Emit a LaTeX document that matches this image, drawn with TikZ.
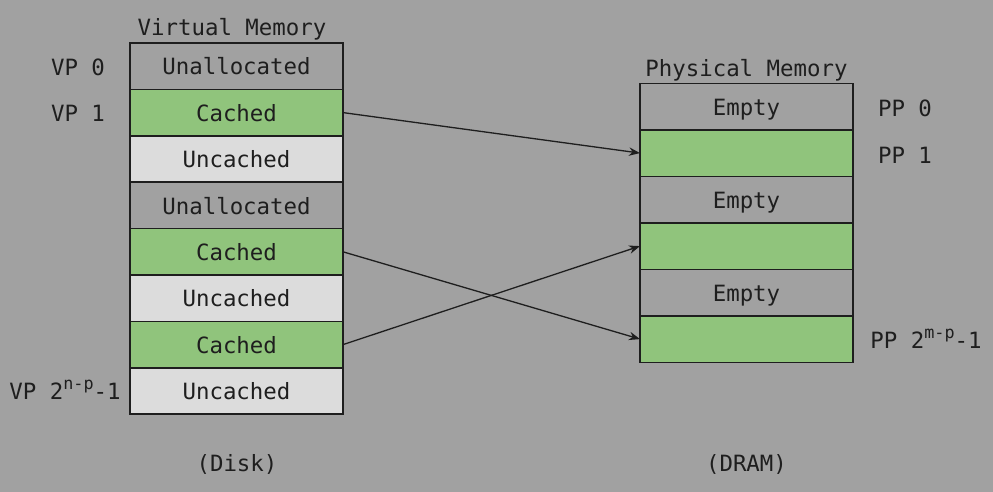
\documentclass[tikz,border=0pt]{standalone}
\usepackage{fontspec}
\setmonofont{DejaVu Sans Mono}
\usetikzlibrary{arrows.meta}
\definecolor{bgc}{HTML}{A1A1A1}
\definecolor{cgreen}{HTML}{90C47C}
\definecolor{clight}{HTML}{DCDCDC}
\definecolor{ink}{HTML}{1E1E1E}
\newcommand{\supx}[1]{\raisebox{0.45em}{\fontsize{8.4}{10}\selectfont #1}}
\tikzset{
  cell/.style={draw=ink, line width=0.75pt, minimum width=106.5pt, minimum height=23.2pt, inner sep=0pt, outer sep=0pt, text=ink, text height=9.8pt, text depth=1pt},
  unal/.style={cell, fill=bgc},
  cach/.style={cell, fill=cgreen},
  unca/.style={cell, fill=clight},
  pcell/.style={cell, minimum height=23.25pt},
  lab/.style={text=ink, inner sep=0pt, text height=9.8pt, text depth=1pt},
  conn/.style={draw=ink, line width=0.65pt, -{Stealth[length=5.5pt,width=4.2pt]}}
}
\begin{document}
\begin{tikzpicture}[x=0.5pt,y=-0.5pt, font=\ttfamily\fontsize{11.2}{13}\selectfont]
\fill[bgc] (0,0) rectangle (993,492);
\useasboundingbox (0,0) rectangle (993,492);
% virtual memory column
\node[unal] (v0) at (236.5,66.2) {Unallocated};
\node[cach] (v1) at (236.5,112.6) {Cached};
\node[unca] (v2) at (236.5,159.0) {Uncached};
\node[unal] (v3) at (236.5,205.4) {Unallocated};
\node[cach] (v4) at (236.5,251.8) {Cached};
\node[unca] (v5) at (236.5,298.2) {Uncached};
\node[cach] (v6) at (236.5,344.6) {Cached};
\node[unca] (v7) at (236.5,391.0) {Uncached};
% physical memory column
\node[pcell, fill=bgc] (p0) at (746.5,106.6) {Empty};
\node[pcell, fill=cgreen] (p1) at (746.5,153.1) {};
\node[pcell, fill=bgc] (p2) at (746.5,199.6) {Empty};
\node[pcell, fill=cgreen] (p3) at (746.5,246.1) {};
\node[pcell, fill=bgc] (p4) at (746.5,292.6) {Empty};
\node[pcell, fill=cgreen] (p5) at (746.5,339.1) {};
% titles and labels
\node[lab] (tv) at (232,27) {Virtual Memory};
\node[lab] (tp) at (746.5,68) {Physical Memory};
\node[lab] (vp0) at (78,66.5) {VP 0};
\node[lab] (vp1) at (78,113) {VP 1};
\node[lab] (vpn) at (65,391) {VP 2\supx{n-p}-1};
\node[lab] (pp0) at (905,108) {PP 0};
\node[lab] (pp1) at (905,155) {PP 1};
\node[lab] (ppm) at (926,339.5) {PP 2\supx{m-p}-1};
\node[lab] (disk) at (237,463) {(Disk)};
\node[lab] (dram) at (746.5,463) {(DRAM)};
% connectors
\draw[conn] (v1.east) -- (p1.west);
\draw[conn] (v4.east) -- (p5.west);
\draw[conn] (v6.east) -- (p3.west);
\end{tikzpicture}
\end{document}
